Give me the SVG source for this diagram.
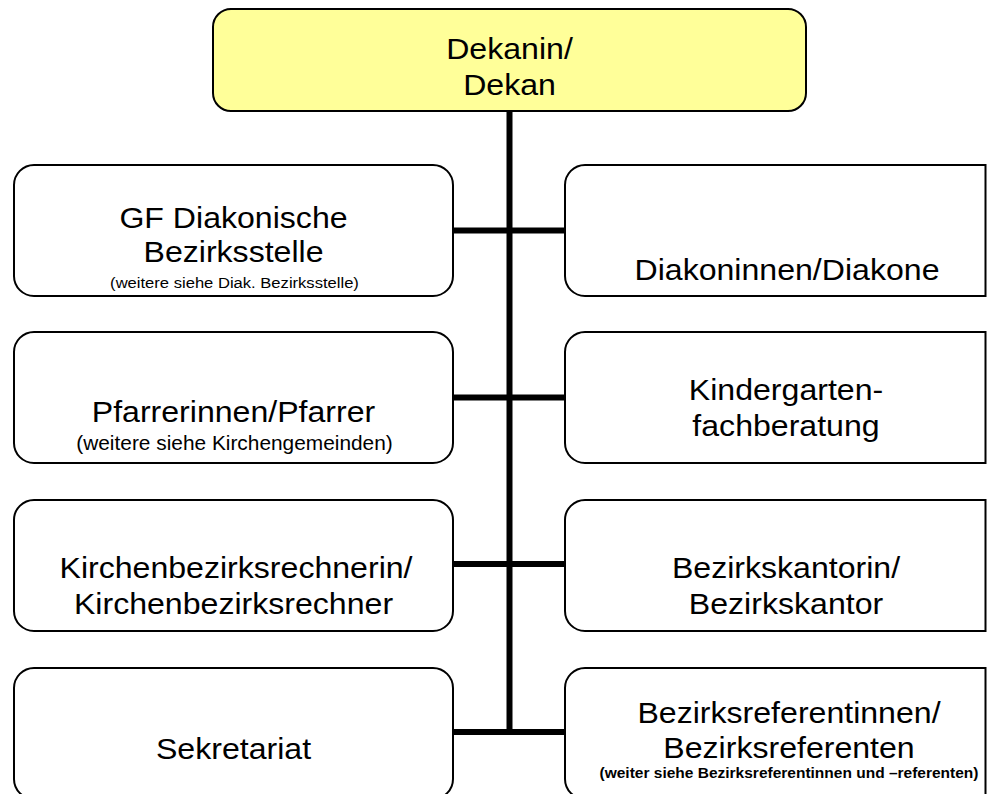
<svg xmlns="http://www.w3.org/2000/svg" width="987" height="794" viewBox="0 0 987 794">
<style>
.box{fill:#fff;stroke:#000;stroke-width:2}
.top{fill:#ffff99;stroke:#000;stroke-width:2}
text{font-family:"Liberation Sans",Arial,sans-serif;fill:#000;text-anchor:middle}
.t{font-size:30px}
.s1{font-size:15.5px}
.s2{font-size:19.5px}
.sb{font-size:14.5px;font-weight:bold}
.c{stroke:#000;stroke-width:6;fill:none}
</style>
<rect width="987" height="794" fill="#fff"/>
<g id="connectors">
<line class="c" x1="509.5" y1="110" x2="509.5" y2="735"/>
<line class="c" x1="453" y1="230.5" x2="565" y2="230.5"/>
<line class="c" x1="453" y1="397.5" x2="565" y2="397.5"/>
<line class="c" x1="453" y1="564" x2="565" y2="564"/>
<line class="c" x1="453" y1="732" x2="565" y2="732"/>
</g>
<g id="dekan">
<rect class="top" x="213" y="9" width="593" height="102" rx="18"/>
<text class="t" transform="translate(509.5 59) scale(1.07 1)">Dekanin/</text>
<text class="t" transform="translate(509.5 95) scale(1.07 1)">Dekan</text>
</g>
<g id="gf-diakonische">
<rect class="box" x="14" y="165" width="439" height="131" rx="20"/>
<text class="t" transform="translate(233.5 228) scale(1.07 1)">GF Diakonische</text>
<text class="t" transform="translate(233.5 262) scale(1.07 1)">Bezirksstelle</text>
<text class="s1" transform="translate(234.5 288) scale(1.07 1)">(weitere siehe Diak. Bezirksstelle)</text>
</g>
<g id="diakone">
<path class="box" d="M985.5 165 H585 A20 20 0 0 0 565 185 V276 A20 20 0 0 0 585 296 H985.5 Z"/>
<text class="t" transform="translate(787 280) scale(1.07 1)">Diakoninnen/Diakone</text>
</g>
<g id="pfarrer">
<rect class="box" x="14" y="332" width="439" height="131" rx="20"/>
<text class="t" transform="translate(233.5 422) scale(1.07 1)">Pfarrerinnen/Pfarrer</text>
<text class="s2" transform="translate(234.5 450) scale(1.07 1)">(weitere siehe Kirchengemeinden)</text>
</g>
<g id="kindergarten">
<path class="box" d="M985.5 332 H585 A20 20 0 0 0 565 352 V443 A20 20 0 0 0 585 463 H985.5 Z"/>
<text class="t" transform="translate(786 400) scale(1.07 1)">Kindergarten-</text>
<text class="t" transform="translate(786 436) scale(1.07 1)">fachberatung</text>
</g>
<g id="rechner">
<rect class="box" x="14" y="500" width="439" height="131" rx="20"/>
<text class="t" transform="translate(236 578) scale(1.07 1)">Kirchenbezirksrechnerin/</text>
<text class="t" transform="translate(233.5 614) scale(1.07 1)">Kirchenbezirksrechner</text>
</g>
<g id="kantor">
<path class="box" d="M985.5 500 H585 A20 20 0 0 0 565 520 V611 A20 20 0 0 0 585 631 H985.5 Z"/>
<text class="t" transform="translate(786 578) scale(1.07 1)">Bezirkskantorin/</text>
<text class="t" transform="translate(786 614) scale(1.07 1)">Bezirkskantor</text>
</g>
<g id="sekretariat">
<rect class="box" x="14" y="668" width="439" height="131" rx="20"/>
<text class="t" transform="translate(233.5 759) scale(1.07 1)">Sekretariat</text>
</g>
<g id="referenten">
<path class="box" d="M985.5 668 H585 A20 20 0 0 0 565 688 V779 A20 20 0 0 0 585 799 H985.5 Z"/>
<text class="t" transform="translate(789 723) scale(1.07 1)">Bezirksreferentinnen/</text>
<text class="t" transform="translate(789 758) scale(1.07 1)">Bezirksreferenten</text>
<text class="sb" transform="translate(789 778) scale(1.07 1)">(weiter siehe Bezirksreferentinnen und –referenten)</text>
</g>
</svg>
